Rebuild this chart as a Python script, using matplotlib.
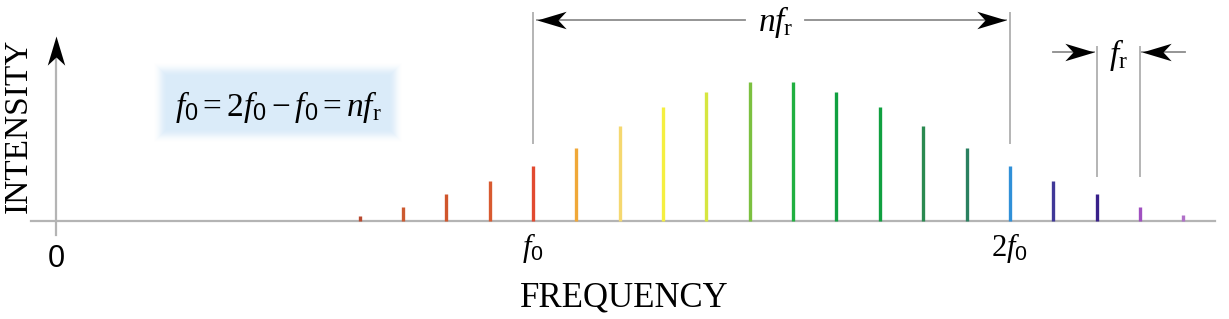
import numpy as np
import matplotlib
matplotlib.use("Agg")
import matplotlib.pyplot as plt
from matplotlib.path import Path

# comb lines: harmonic index (in units of f_r) and intensity
harmonics = list(range(7, 27))
intensity = [5, 14, 27, 40, 55, 73, 95, 114, 129, 139,
             139, 129, 114, 95, 73, 55, 40, 27, 14, 6]
line_colors = [
    "#b84a30", "#cc5a30", "#d0562c", "#d85a30", "#e24a30",
    "#f0a838", "#f5d870", "#f5ef40", "#d6e640", "#7cc040",
    "#20b040", "#10a040", "#10a040", "#2a8a50", "#2a8060",
    "#3090d8", "#403898", "#38208a", "#a050c0", "#b070c8",
]
n_r = 11  # f0 = n * f_r
tick_pos = [0, n_r, 2 * n_r]
tick_labels = ["0", r"$f_{\mathsf{0}}$", r"$2f_{\mathsf{0}}$"]

plt.rcParams["mathtext.fontset"] = "custom"
plt.rcParams["mathtext.it"] = "Liberation Serif:italic"
plt.rcParams["mathtext.rm"] = "Liberation Serif"
plt.rcParams["mathtext.sf"] = "Liberation Sans"

AXIS_GRAY = "#b4b4b4"
ARROW_GRAY = "#8c8c8c"


def head(angle):
    # stealth-like arrowhead with the tip at the origin
    verts = np.array([[0, 0], [-1, 0.3], [-0.72, 0], [-1, -0.3], [0, 0]])
    c, s = np.cos(np.radians(angle)), np.sin(np.radians(angle))
    rot = verts @ np.array([[c, s], [-s, c]])
    codes = [Path.MOVETO, Path.LINETO, Path.LINETO, Path.LINETO, Path.CLOSEPOLY]
    return Path(rot, codes)


def arrow_tip(ax, x, y, angle):
    ax.plot([x], [y], marker=head(angle), ms=42, color="black",
            mew=0, ls="none", zorder=5)


fig = plt.figure(figsize=(12.29, 3.19), dpi=100)
ax = fig.add_axes([0, 0, 1, 1])
ax.axis("off")

# formula box with soft edges
bx0, bx1, by0, by1 = 2.24, 8.0, 78, 159
nx, ny = 250, 81
px = np.linspace(0, 250, nx)
py = np.linspace(0, 81, ny)
dx = np.minimum(px, 250 - px)[None, :]
dy = np.minimum(py, 81 - py)[:, None]
edge = np.clip(np.minimum(dx, dy) / 14.0, 0, 1)
edge = edge * edge * (3 - 2 * edge)
box = np.zeros((ny, nx, 4))
box[..., 0] = 0.855
box[..., 1] = 0.925
box[..., 2] = 0.98
box[..., 3] = edge
ax.imshow(box, extent=[bx0, bx1, by0, by1], aspect="auto",
          interpolation="bilinear", zorder=0)
ax.text((bx0 + bx1) / 2, 114,
        r"$f_{\mathsf{0}} = 2f_{\mathsf{0}} - f_{\mathsf{0}} = nf_{\mathrm{r}}$",
        fontsize=24, ha="center", va="center", zorder=2)

# axes
ax.plot([-0.58, 26.73], [0, 0], color=AXIS_GRAY, lw=1.6, zorder=1)
ax.plot([0, 0], [-14, 170], color=AXIS_GRAY, lw=1.6, zorder=1)
arrow_tip(ax, 0, 185, 90)

# comb lines
ax.vlines(harmonics, 0, intensity, colors=line_colors, lw=2.4, zorder=3)

# tick labels
ax.text(tick_pos[0], -38, tick_labels[0], fontsize=22, family="Liberation Sans",
        ha="center", va="center")
for xp, lab in zip(tick_pos[1:], tick_labels[1:]):
    ax.text(xp, -27, lab, fontsize=22, ha="center", va="center")

ax.text(13.1, -77, "FREQUENCY", fontsize=25, family="Liberation Serif",
        ha="center", va="center")
ax.text(-0.86, 95, "INTENSITY", fontsize=24, family="Liberation Serif",
        ha="center", va="center", rotation=90)

# n f_r span between f0 and 2f0
for xp in tick_pos[1:]:
    ax.plot([xp, xp], [78, 208], color=AXIS_GRAY, lw=1.4, zorder=1)
y_top = 201
ax.plot([11.1, 15.9], [y_top, y_top], color=ARROW_GRAY, lw=1.3)
ax.plot([17.27, 21.9], [y_top, y_top], color=ARROW_GRAY, lw=1.3)
arrow_tip(ax, 11.1, y_top, 180)
arrow_tip(ax, 21.9, y_top, 0)
ax.text(16.6, 199, r"$nf_{\mathrm{r}}$", fontsize=24, ha="center", va="center")

# f_r spacing between two neighbouring lines
for xp in [24, 25]:
    ax.plot([xp, xp], [45, 174], color=AXIS_GRAY, lw=1.4, zorder=1)
y_fr = 169
ax.plot([23.0, 23.95], [y_fr, y_fr], color=ARROW_GRAY, lw=1.3)
ax.plot([25.05, 26.04], [y_fr, y_fr], color=ARROW_GRAY, lw=1.3)
arrow_tip(ax, 23.95, y_fr, 0)
arrow_tip(ax, 25.05, y_fr, 180)
ax.text(24.5, 166, r"$f_{\mathrm{r}}$", fontsize=24, ha="center", va="center")

ax.set_xlim(-56 / 43.36, (1229 - 56) / 43.36)
ax.set_ylim(-98, 221)

fig.savefig("out.png", dpi=100)
